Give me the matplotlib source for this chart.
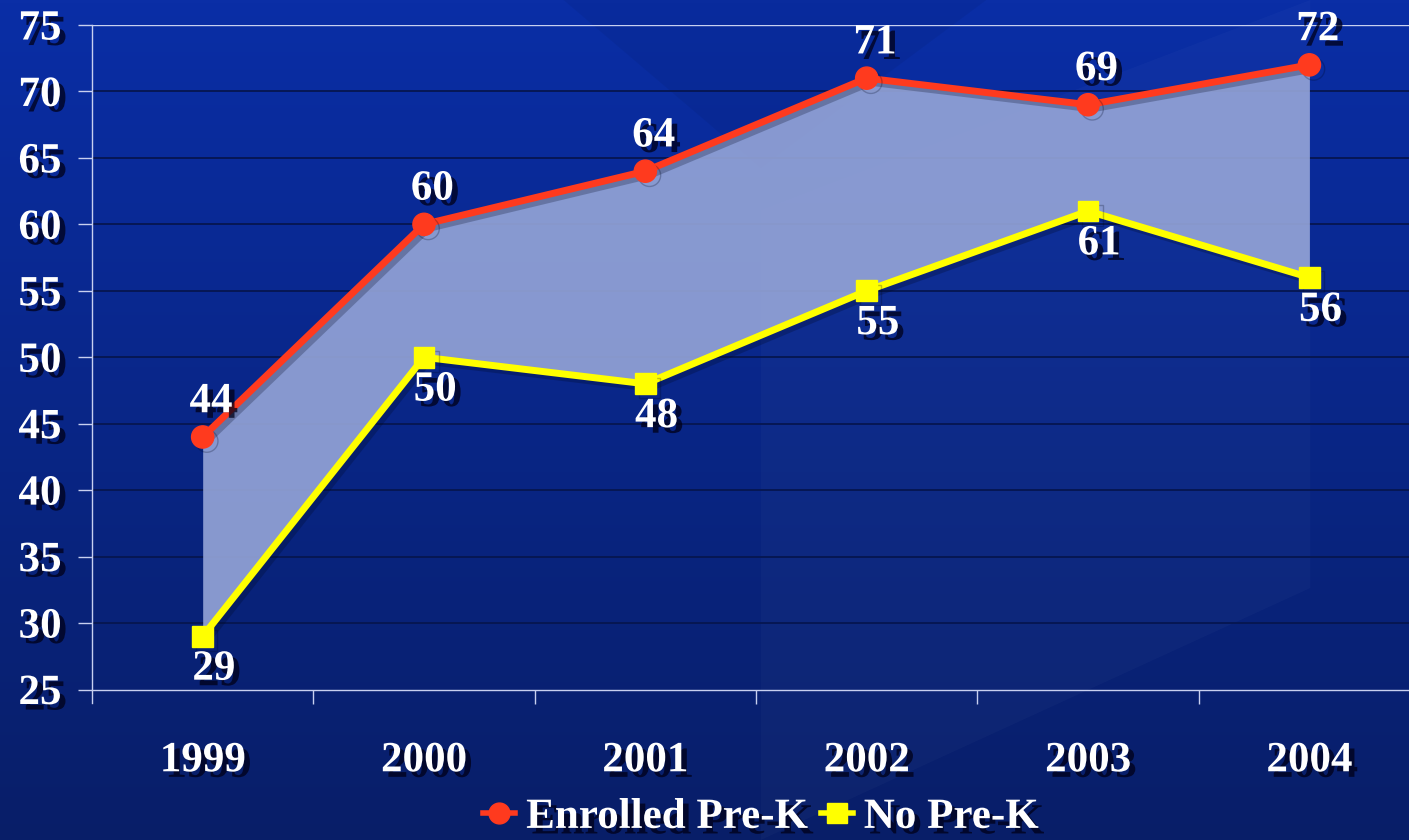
import numpy as np
import matplotlib
matplotlib.use("Agg")
import matplotlib.pyplot as plt
import matplotlib.patheffects as pe
from matplotlib.lines import Line2D

years = ["1999", "2000", "2001", "2002", "2003", "2004"]
enrolled = [44, 60, 64, 71, 69, 72]
no_prek = [29, 50, 48, 55, 61, 56]
yticks = [25, 30, 35, 40, 45, 50, 55, 60, 65, 70, 75]
series_names = ["Enrolled Pre-K", "No Pre-K"]

W, H = 1409, 840
fig = plt.figure(figsize=(W / 100, H / 100), dpi=100)

# background gradient
bg = fig.add_axes([0, 0, 1, 1], zorder=-10)
grad = np.linspace(0, 1, 256)[:, None]
top = np.array([10, 46, 166]) / 255
bot = np.array([8, 30, 104]) / 255
img = top[None, None, :] * (1 - grad[:, :, None]) + bot[None, None, :] * grad[:, :, None]
img = np.repeat(img, 4, axis=1)
bg.imshow(img, aspect="auto", extent=[0, 1, 0, 1], origin="upper")
# subtle decorative shapes
bg.fill([0.40, 0.54, 0.70, 0.56], [1.0, 0.80, 1.0, 1.0], color="black", alpha=0.05, lw=0)
bg.fill([0.54, 0.93, 0.93, 0.54], [0.75, 1.0, 0.30, 0.0], color="white", alpha=0.025, lw=0)
bg.set_xlim(0, 1)
bg.set_ylim(0, 1)
bg.axis("off")

ax_left = 92 / W
ax_bottom = 1 - 689.5 / H
ax_top = 1 - 25 / H
ax = fig.add_axes([ax_left, ax_bottom, 1 - ax_left, ax_top - ax_bottom])
ax.set_facecolor("none")

x = np.arange(len(years))
ax.set_xlim(-0.5, 5.45)
ax.set_ylim(25, 75)

# grid lines
for yv in yticks[1:-1]:
    ax.axhline(yv, color="#061650", lw=1.3, zorder=1)
ax.axhline(75, color="#c8d0f0", lw=1.0, zorder=1)

ax.fill_between(x, no_prek, enrolled, color="#93a3d6", alpha=0.92, lw=0, zorder=2)

shadow = [pe.SimpleLineShadow(offset=(3, -3), shadow_color="#000820", alpha=0.25), pe.Normal()]
ax.plot(x, enrolled, color="#ff3a1e", lw=5, marker="o", ms=16, mec="#ff3a1e",
        zorder=4, path_effects=shadow, solid_capstyle="round")
ax.plot(x, no_prek, color="#ffff00", lw=5, marker="s", ms=15, mec="#ffff00",
        zorder=4, path_effects=shadow)

txt_fx = [pe.withSimplePatchShadow(offset=(4, -4), shadow_rgbFace="#000018", alpha=0.75)]
font = dict(family="Liberation Serif", weight="bold", color="white")

for xi, v in zip(x, enrolled):
    ax.annotate(str(v), (xi, v), xytext=(6, 25), textcoords="offset points",
                ha="center", va="center", fontsize=31, zorder=6, path_effects=txt_fx, **font)
for xi, v in zip(x, no_prek):
    ax.annotate(str(v), (xi, v), xytext=(8, -24), textcoords="offset points",
                ha="center", va="center", fontsize=31, zorder=6, path_effects=txt_fx, **font)

# axes styling
for s in ["top", "right"]:
    ax.spines[s].set_visible(False)
for s in ["left", "bottom"]:
    ax.spines[s].set_color("#c8d0f0")
    ax.spines[s].set_linewidth(1.0)
    ax.spines[s].set_zorder(5)
ax.spines["left"].set_bounds(24, 75)

ax.set_yticks(yticks)
ax.set_yticklabels([str(t) for t in yticks])
ax.set_xticks(x)
ax.set_xticklabels(years)
ax.set_xticks(np.arange(0.5, 5.5, 1.0), minor=True)
ax.tick_params(axis="x", which="major", length=0, pad=38)
ax.tick_params(axis="x", which="minor", length=10, direction="out", color="#c8d0f0", width=1)
ax.tick_params(axis="y", length=10, direction="out", color="#c8d0f0", width=1, pad=12)
for lab in ax.get_yticklabels() + ax.get_xticklabels():
    lab.set_fontfamily("Liberation Serif")
    lab.set_fontweight("bold")
    lab.set_color("white")
    lab.set_fontsize(31)
    lab.set_path_effects(txt_fx)

handles = [
    Line2D([], [], color="#ff3a1e", lw=4, marker="o", ms=15, mec="#ff3a1e"),
    Line2D([], [], color="#ffff00", lw=4, marker="s", ms=14, mec="#ffff00"),
]
leg = fig.legend(handles, series_names, loc="center", bbox_to_anchor=(0.54, 0.027),
                 ncol=2, frameon=False, handlelength=0.75, handletextpad=0.25,
                 columnspacing=0.3, prop=dict(family="Liberation Serif", weight="bold", size=31))
for t in leg.get_texts():
    t.set_color("white")
    t.set_path_effects(txt_fx)

fig.savefig("out.png", dpi=100)
